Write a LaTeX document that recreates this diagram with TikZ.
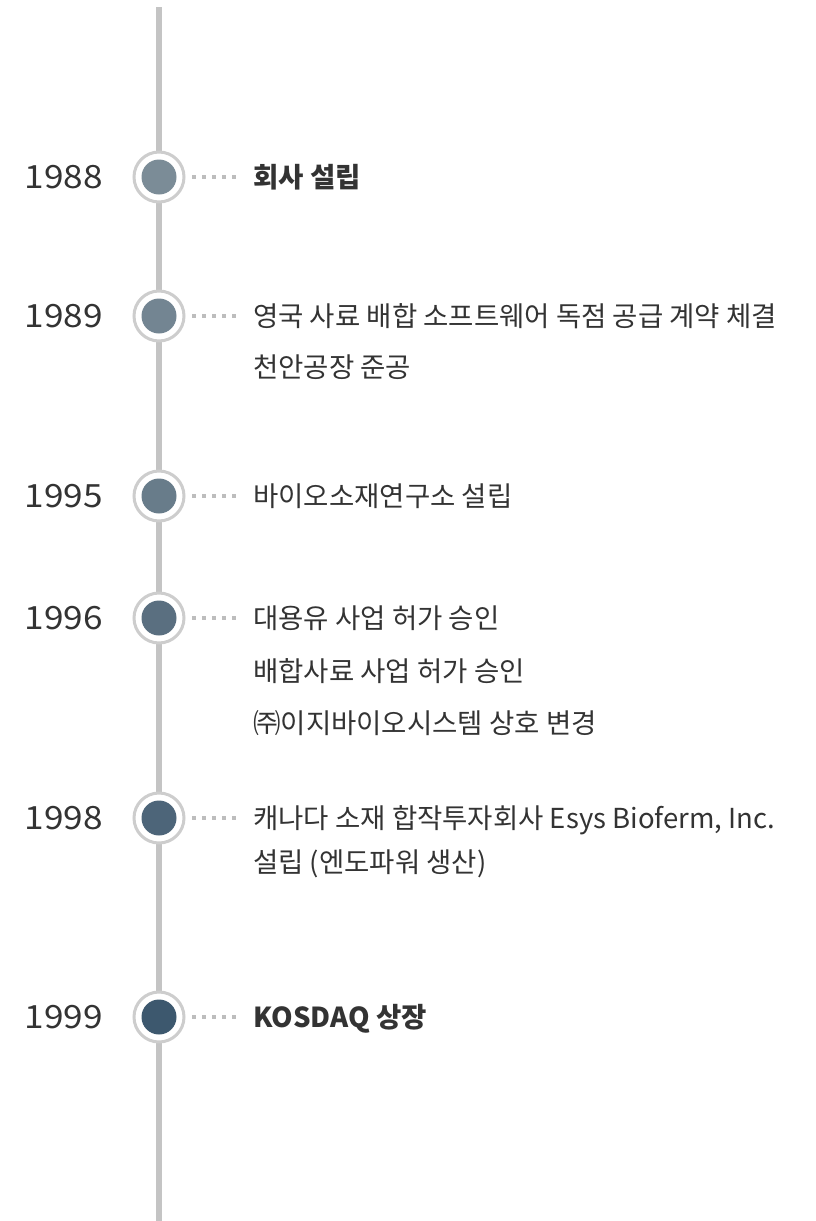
\documentclass[tikz,border=0pt]{standalone}
\usepackage{fontspec}
\setmainfont{Noto Sans CJK KR}
\newfontfamily\yearfont[FakeStretch=1.1]{Noto Sans CJK KR}
\definecolor{linegray}{HTML}{C4C4C4}
\definecolor{ringgray}{HTML}{CDCDCD}
\definecolor{dotgray}{HTML}{BDBDBD}
\definecolor{txt}{HTML}{333333}
\definecolor{ca}{HTML}{7B8C97}
\definecolor{cb}{HTML}{738592}
\definecolor{cc}{HTML}{687C8A}
\definecolor{cd}{HTML}{5A6F80}
\definecolor{ce}{HTML}{4D6579}
\definecolor{cf}{HTML}{3D586E}
\tikzset{
  year/.style={anchor=base east, font=\yearfont\fontsize{32}{36}\selectfont, text=txt, inner sep=0pt},
  lbl/.style={anchor=base west, font=\fontsize{27.5}{32}\selectfont, text=txt, inner sep=0pt},
  lblb/.style={lbl, font=\fontsize{27.5}{32}\selectfont\bfseries},
  ring/.style={circle, draw=ringgray, line width=3pt, fill=white, minimum size=50pt, inner sep=0pt},
  dotline/.style={dotgray, line width=4pt, dash pattern=on 4pt off 6pt},
}
\begin{document}
\begin{tikzpicture}[x=1pt,y=-1pt]
\useasboundingbox (0,0) rectangle (816,1221);
\draw[linegray, line width=6pt] (159,7) -- (159,1221);
\foreach \n/\y/\c/\yr in {a/177/ca/1988, b/316/cb/1989, c/496/cc/1995, d/618/cd/1996, e/818/ce/1998, f/1017/cf/1999}{
  \node[ring] (r\n) at (159,\y) {};
  \fill[\c] (r\n.center) circle (17.5);
  \node[year] (y\n) at (103,\y+11) {\yr};
  \coordinate (d\n) at (192,\y);
  \coordinate (e\n) at (236,\y);
  \draw[dotline] (d\n) -- (e\n);
}
\node[lblb] (la) at (253,187) {회사 설립};
\node[lbl] (lb1) at (253,326) {영국 사료 배합 소프트웨어 독점 공급 계약 체결};
\node[lbl] (lb2) at (253,377) {천안공장 준공};
\node[lbl] (lc) at (253,506) {바이오소재연구소 설립};
\node[lbl] (ld1) at (253,628) {대용유 사업 허가 승인};
\node[lbl] (ld2) at (253,681) {배합사료 사업 허가 승인};
\node[lbl] (ld3) at (253,733) {㈜이지바이오시스템 상호 변경};
\node[lbl] (le1) at (253,828) {캐나다 소재 합작투자회사 Esys Bioferm, Inc.};
\node[lbl] (le2) at (253,872) {설립 (엔도파워 생산)};
\node[lblb] (lf) at (253,1027) {KOSDAQ 상장};
\end{tikzpicture}
\end{document}
